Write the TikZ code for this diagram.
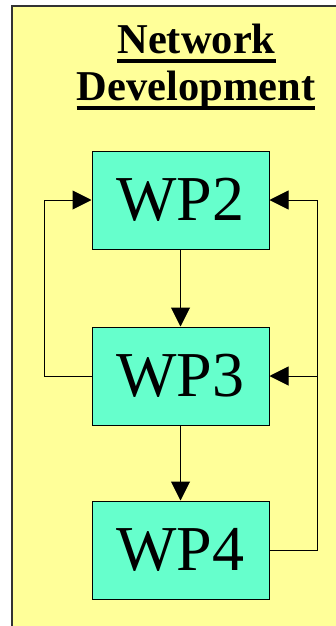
\documentclass[tikz,border=0pt]{standalone}
\usepackage{fontspec}
\setmainfont{Liberation Serif}
\usetikzlibrary{arrows.meta}
\definecolor{paneyellow}{HTML}{FFFF99}
\definecolor{wpgreen}{HTML}{66FFCC}
\begin{document}
\begin{tikzpicture}[x=1pt,y=-1pt,
  wpbox/.style={draw=black, line width=1pt, fill=wpgreen, minimum width=177pt, minimum height=98pt, inner sep=0pt, font=\fontsize{64}{70}\selectfont},
  title/.style={inner sep=0pt, anchor=base, font=\fontsize{42.5}{47}\selectfont\bfseries},
  conn/.style={draw=black, line width=1pt},
  arr/.style={conn, -{Triangle[length=19pt,width=19pt]}},
  uline/.style={draw=black, line width=3.5pt}]
\useasboundingbox (0,0) rectangle (335,626);
\fill[white] (0,0) rectangle (335,626);
\draw[fill=paneyellow, draw=black!80, line width=1.5pt] (12,6) rectangle (345,640);
% title
\node[title] (t1) at (196.5,53) {Network};
\node[title] (t2) at (196,100) {Development};
\draw[uline] ([yshift=-8pt]t1.base west) -- ([yshift=-8pt]t1.base east);
\draw[uline] ([yshift=-8pt]t2.base west) -- ([yshift=-8pt]t2.base east);
% boxes
\node[wpbox] (wp2) at (180.5,200) {WP2};
\node[wpbox] (wp3) at (180.5,376) {WP3};
\node[wpbox] (wp4) at (180.5,550) {WP4};
% connectors
\coordinate (lx) at (44,0);
\coordinate (rx) at (317,0);
\draw[arr] (wp2) -- (wp3);
\draw[arr] (wp3) -- (wp4);
\draw[arr] (wp3.west) -- (lx |- wp3.west) -- (lx |- wp2.west) -- (wp2.west);
\draw[arr] (wp4.east) -- (rx |- wp4.east) -- (rx |- wp2.east) -- (wp2.east);
\draw[arr] (rx |- wp3.east) -- (wp3.east);
\end{tikzpicture}
\end{document}
